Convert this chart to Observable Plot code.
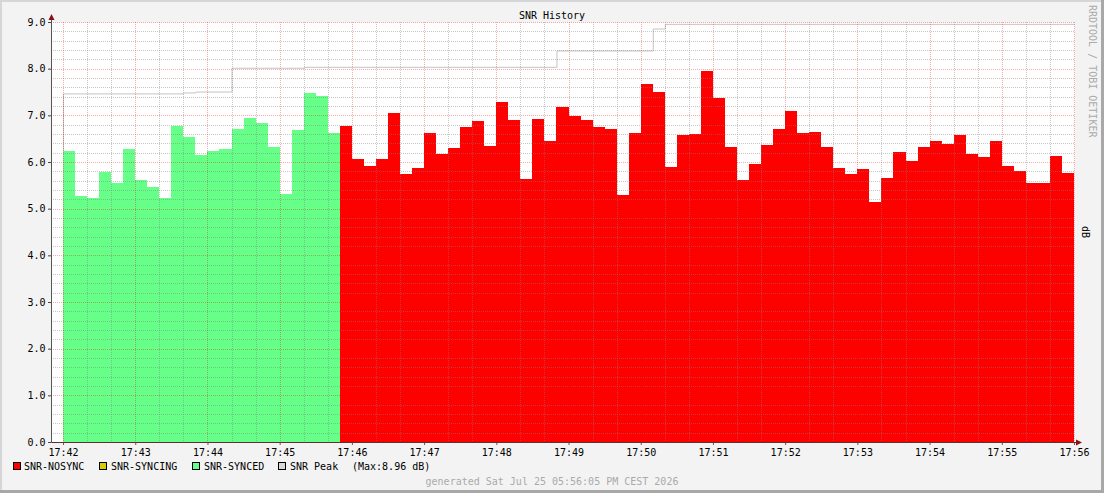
<!DOCTYPE html>
<html>
<head>
<meta charset="utf-8">
<script src="https://cdn.jsdelivr.net/npm/d3@7"></script>
<script src="https://cdn.jsdelivr.net/npm/@observablehq/plot@0.6"></script>
<style>
  html, body { margin: 0; padding: 0; background: #f3f3f3; }
  #chart svg { display: block; }
</style>
</head>
<body>
<div id="chart"></div>
<script>
// ---- data (10-second samples starting 17:42:00) ----
const seriesNames = ["SNR-NOSYNC", "SNR-SYNCING", "SNR-SYNCED"];
const seriesColors = ["#ff0000", "#d8cc00", "#66ff88"];
const syncedSNR = [6.24, 5.27, 5.23, 5.79, 5.56, 6.28, 5.61, 5.46, 5.23, 6.77, 6.54, 6.16,
  6.24, 6.28, 6.71, 6.94, 6.84, 6.32, 5.31, 6.69, 7.48, 7.41, 6.62];
const syncingSNR = [];
const nosyncSNR = [6.77, 6.06, 5.91, 6.06, 7.05, 5.74, 5.87, 6.62, 6.18, 6.30, 6.75, 6.88,
  6.34, 7.29, 6.90, 5.64, 6.92, 6.45, 7.18, 6.99, 6.90, 6.75, 6.71, 5.29, 6.62, 7.67, 7.50,
  5.89, 6.58, 6.60, 7.95, 7.37, 6.32, 5.61, 5.96, 6.36, 6.71, 7.09, 6.62, 6.64, 6.32, 5.87,
  5.74, 5.85, 5.14, 5.66, 6.21, 6.02, 6.32, 6.45, 6.39, 6.58, 6.17, 6.11, 6.45, 5.91, 5.81,
  5.55, 5.55, 6.13, 5.76];
const peakSNR = [7.47, 7.47, 7.47, 7.47, 7.47, 7.47, 7.47, 7.47, 7.47, 7.47, 7.49, 7.51,
  7.51, 7.51, 8.02, 8.02, 8.02, 8.02, 8.02, 8.02, 8.04, 8.04, 8.04, 8.04, 8.04, 8.04, 8.04,
  8.04, 8.04, 8.04, 8.04, 8.04, 8.04, 8.04, 8.04, 8.04, 8.04, 8.04, 8.04, 8.04, 8.04, 8.39,
  8.39, 8.39, 8.39, 8.39, 8.39, 8.39, 8.39, 8.86, 8.96, 8.96, 8.96, 8.96, 8.96, 8.96, 8.96,
  8.96, 8.96, 8.96, 8.96, 8.96, 8.96, 8.96, 8.96, 8.96, 8.96, 8.96, 8.96, 8.96, 8.96, 8.96,
  8.96, 8.96, 8.96, 8.96, 8.96, 8.96, 8.96, 8.96, 8.96, 8.96, 8.96, 8.96];
const peakMax = "8.96";
const yTicks = [0, 1, 2, 3, 4, 5, 6, 7, 8, 9];
const titleText = "SNR History";
const unitText = "dB";
const watermark = "RRDTOOL / TOBI OETIKER";
const generatedText = "generated Sat Jul 25 05:56:05 PM CEST 2026";

// ---- build tables ----
const stepMs = 10000;
const t0 = Date.UTC(2026, 6, 25, 17, 42, 0);
const bars = [];
let idx = 0;
syncedSNR.forEach(v => { bars.push({ i: idx, v, s: seriesNames[2] }); idx++; });
syncingSNR.forEach(v => { bars.push({ i: idx, v, s: seriesNames[1] }); idx++; });
nosyncSNR.forEach(v => { bars.push({ i: idx, v, s: seriesNames[0] }); idx++; });
bars.forEach(b => { b.t1 = new Date(t0 + b.i * stepMs); b.t2 = new Date(t0 + (b.i + 1) * stepMs); });

const peakPts = [{ t: new Date(t0), v: 0 }];
peakSNR.forEach((v, i) => peakPts.push({ t: new Date(t0 + i * stepMs), v }));
peakPts.push({ t: new Date(t0 + peakSNR.length * stepMs), v: peakSNR[peakSNR.length - 1] });

const xStart = new Date(t0 - stepMs);
const xEnd = new Date(t0 + peakSNR.length * stepMs);
const minorX = d3.utcSecond.every(20).range(xStart, new Date(+xEnd + 1)).filter(d => d.getUTCSeconds() !== 0);
const majorX = d3.utcMinute.every(1).range(xStart, new Date(+xEnd + 1));
const minorY = d3.range(0, 45).map(k => k / 5).filter((d, k) => k % 5 !== 0);

const W = 1104, H = 493, ML = 51, MR = 30, MT = 22, MB = 51;
const font = "DejaVu Sans Mono";

const svg = Plot.plot({
  width: W, height: H,
  marginLeft: ML, marginRight: MR, marginTop: MT, marginBottom: MB,
  style: { background: "#f3f3f3", fontFamily: font, fontSize: "10px", color: "black" },
  x: { type: "utc", domain: [xStart, xEnd] },
  y: { domain: [0, 9] },
  color: { domain: seriesNames, range: seriesColors },
  marks: [
    Plot.frame({ fill: "white", stroke: null }),
    Plot.line(peakPts, { x: "t", y: "v", curve: "step-after", stroke: "#c4c4c4", strokeWidth: 1 }),
    Plot.rectY(bars, { x1: "t1", x2: "t2", y: "v", fill: "s", inset: 0, shapeRendering: "crispEdges" }),
    Plot.ruleX(minorX, { stroke: "rgba(130,130,130,0.45)", strokeDasharray: "1,1", shapeRendering: "crispEdges" }),
    Plot.ruleY(minorY, { stroke: "rgba(130,130,130,0.45)", strokeDasharray: "1,1", shapeRendering: "crispEdges" }),
    Plot.ruleX(majorX, { stroke: "rgba(230,0,0,0.33)", strokeDasharray: "1,1", shapeRendering: "crispEdges" }),
    Plot.ruleY(yTicks, { stroke: "rgba(230,0,0,0.33)", strokeDasharray: "1,1", shapeRendering: "crispEdges" }),
    Plot.axisY({ ticks: yTicks, tickFormat: d3.format(".1f"), tickSize: 3, tickPadding: 3, label: null, stroke: "#444", fill: "black" }),
    Plot.axisX({ ticks: majorX, tickFormat: d3.utcFormat("%H:%M"), tickSize: 3, tickPadding: 3, label: null, stroke: "#a04040", fill: "black" })
  ]
});

const s = d3.select(svg);
// shaded border
s.append("line").attr("x1", 0).attr("y1", 1).attr("x2", W).attr("y2", 1).attr("stroke", "#d6d6d6").attr("stroke-width", 2);
s.append("line").attr("x1", 1).attr("y1", 0).attr("x2", 1).attr("y2", H).attr("stroke", "#d6d6d6").attr("stroke-width", 2);
s.append("line").attr("x1", 0).attr("y1", H - 1.5).attr("x2", W).attr("y2", H - 1.5).attr("stroke", "#a8a8a8").attr("stroke-width", 3);
s.append("line").attr("x1", W - 1.5).attr("y1", 0).attr("x2", W - 1.5).attr("y2", H).attr("stroke", "#a8a8a8").attr("stroke-width", 3);

// axis lines and arrows
const axisBottom = H - MB + 0.5, axisLeft = ML + 0.5;
s.append("line").attr("x1", axisLeft).attr("y1", axisBottom).attr("x2", W - MR + 4).attr("y2", axisBottom).attr("stroke", "#5a3030");
s.append("line").attr("x1", axisLeft).attr("y1", axisBottom).attr("x2", axisLeft).attr("y2", MT - 3).attr("stroke", "#555");
s.append("path").attr("d", `M${W - MR + 2},${axisBottom - 3}L${W - MR + 8},${axisBottom}L${W - MR + 2},${axisBottom + 3}Z`).attr("fill", "#8b1010");
s.append("path").attr("d", `M${axisLeft - 3},${MT - 2}L${axisLeft},${MT - 8}L${axisLeft + 3},${MT - 2}Z`).attr("fill", "#8b1010");

const addText = (x, y, str, opts = {}) => {
  const t = s.append("text").attr("x", x).attr("y", y)
    .attr("text-anchor", opts.anchor || "start")
    .attr("font-family", font).attr("font-size", 10)
    .attr("fill", opts.fill || "black")
    .style("white-space", "pre")
    .text(str);
  if (opts.transform) t.attr("transform", opts.transform);
  if (opts.baseline) t.attr("dominant-baseline", opts.baseline);
  return t;
};

// title
addText(W / 2, 19, titleText, { anchor: "middle" });
// unit label (rotated)
addText(0, 0, unitText, { anchor: "middle", baseline: "central", transform: "translate(1085,232) rotate(90)" });
// watermark (rotated)
addText(0, 0, watermark, { anchor: "start", baseline: "central", fill: "#aaaaaa", transform: "translate(1092,5) rotate(90)" });

// legend
const legendItems = [
  { name: seriesNames[0], color: seriesColors[0], sx: 13, tx: 24 },
  { name: seriesNames[1], color: seriesColors[1], sx: 99, tx: 111 },
  { name: seriesNames[2], color: seriesColors[2], sx: 192, tx: 204 },
  { name: "SNR Peak", color: "#d8d8d8", sx: 278, tx: 290 }
];
legendItems.forEach(it => {
  s.append("rect").attr("x", it.sx + 0.5).attr("y", 462.5).attr("width", 7).attr("height", 7)
    .attr("fill", it.color).attr("stroke", "black");
  addText(it.tx, 469.5, it.name);
});
addText(352, 469.5, `(Max:${peakMax} ${unitText})`);

// generated footer
addText(W / 2, 484.5, generatedText, { anchor: "middle", fill: "#aaaaaa" });

document.getElementById("chart").appendChild(svg);
</script>
</body>
</html>
